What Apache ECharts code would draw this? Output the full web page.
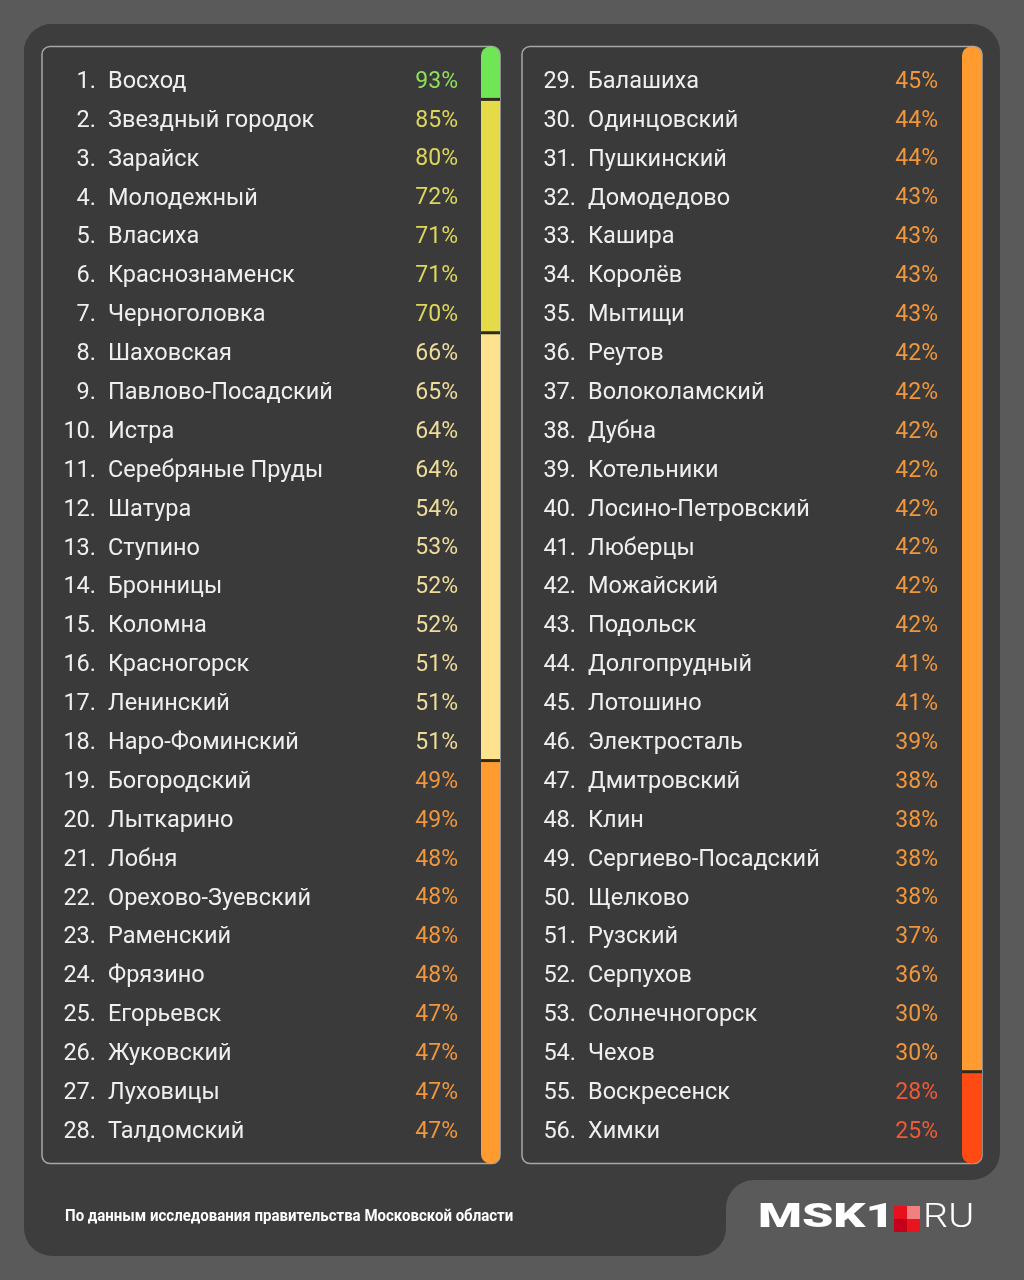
<!DOCTYPE html>
<html>
<head>
<meta charset="utf-8">
<title>Рейтинг округов Подмосковья</title>
<script src="https://cdn.jsdelivr.net/npm/echarts@6/dist/echarts.min.js"></script>
<style>
    html, body { margin: 0; padding: 0; background: #5a5a5a; }
    #box { width: 1024px; height: 1280px; }
</style>
</head>
<body>
<div id="box"></div>
<script>
// данные: левая колонка (1-28)
var leftNames = ['Восход', 'Звездный городок', 'Зарайск', 'Молодежный', 'Власиха', 'Краснознаменск',
    'Черноголовка', 'Шаховская', 'Павлово-Посадский', 'Истра', 'Серебряные Пруды', 'Шатура',
    'Ступино', 'Бронницы', 'Коломна', 'Красногорск', 'Ленинский', 'Наро-Фоминский', 'Богородский',
    'Лыткарино', 'Лобня', 'Орехово-Зуевский', 'Раменский', 'Фрязино', 'Егорьевск', 'Жуковский',
    'Луховицы', 'Талдомский'];
var leftValues = [93, 85, 80, 72, 71, 71, 70, 66, 65, 64, 64, 54, 53, 52, 52, 51, 51, 51,
    49, 49, 48, 48, 48, 48, 47, 47, 47, 47];

// правая колонка (29-56)
var rightNames = ['Балашиха', 'Одинцовский', 'Пушкинский', 'Домодедово', 'Кашира', 'Королёв',
    'Мытищи', 'Реутов', 'Волоколамский', 'Дубна', 'Котельники', 'Лосино-Петровский', 'Люберцы',
    'Можайский', 'Подольск', 'Долгопрудный', 'Лотошино', 'Электросталь', 'Дмитровский', 'Клин',
    'Сергиево-Посадский', 'Щелково', 'Рузский', 'Серпухов', 'Солнечногорск', 'Чехов',
    'Воскресенск', 'Химки'];
var rightValues = [45, 44, 44, 43, 43, 43, 43, 42, 42, 42, 42, 42, 42, 42, 42, 41, 41,
    39, 38, 38, 38, 38, 37, 36, 30, 30, 28, 25];

// границы групп: >=90 зелёный, >=70 жёлтый, >=50 светлый, >=30 оранжевый, иначе красный
var tierLimits = [90, 70, 50, 30];
var stripColors = ['#6fe655', '#e5db48', '#fde38e', '#ff9b2f', '#ff4a14'];
var textColors = ['#8ee05c', '#dcd65c', '#efdc9a', '#f0963c', '#f05a38'];

var ROWS = 28;
var rowTop = 60.5, rowHeight = 1089;
var textTop = 62.5; // текст чуть ниже центра строки
var EXT = 14; // полоса выходит за строки до краёв рамки
var FONT = 23.5;

function tierOf(v) {
    for (var i = 0; i < tierLimits.length; i++) {
        if (v >= tierLimits[i]) return i;
    }
    return tierLimits.length;
}

// подряд идущие строки одной группы -> [0, начало, конец, группа]
function runs(values) {
    var out = [];
    values.forEach(function (v, i) {
        var t = tierOf(v);
        var last = out[out.length - 1];
        if (last && last[3] === t) last[2] = i;
        else out.push([0, i, i, t]);
    });
    return out;
}

function stripRender(count) {
    return function (params, api) {
        var cs = params.coordSys;
        var band = cs.height / ROWS;
        var s = api.value(1), e = api.value(2), t = api.value(3);
        var y0 = api.coord([0, s])[1] - band / 2;
        var y1 = api.coord([0, e])[1] + band / 2;
        var first = params.dataIndex === 0;
        var last = params.dataIndex === count - 1;
        var r = [0, 0, 0, 0];
        if (first) { y0 -= EXT; r[0] = r[1] = 9; }
        if (last) { y1 += EXT; r[2] = r[3] = 9; }
        var children = [{
            type: 'rect',
            shape: { x: cs.x, y: y0, width: cs.width, height: y1 - y0, r: r },
            style: { fill: stripColors[t] }
        }];
        if (!first) {
            children.push({
                type: 'rect',
                shape: { x: cs.x, y: y0 - 1.5, width: cs.width, height: 3 },
                style: { fill: '#2e2a22' }
            });
        }
        return { type: 'group', children: children };
    };
}

// общий вид текстовой оси-колонки
function textAxis(gridIndex, position, data, label) {
    return {
        type: 'category',
        gridIndex: gridIndex,
        inverse: true,
        position: position,
        data: data,
        axisLine: { show: false },
        axisTick: { show: false },
        splitLine: { show: false },
        axisLabel: Object.assign({
            inside: true,
            interval: 0,
            fontSize: FONT,
            fontFamily: 'Roboto',
            color: '#efefef'
        }, label)
    };
}

function rankAxis(names, gridIndex, startRank) {
    var ranks = names.map(function (n, i) { return (startRank + i) + '.'; });
    return textAxis(gridIndex, 'left', ranks, { margin: 38, align: 'right' });
}

function nameAxis(names, gridIndex) {
    return textAxis(gridIndex, 'left', names, { margin: 50, align: 'left' });
}

function valueAxis(values, gridIndex) {
    var labels = values.map(function (v) { return v + '%'; });
    return textAxis(gridIndex, 'right', labels, {
        margin: 2,
        fontSize: 23,
        color: function (value, index) {
            return textColors[tierOf(values[index])];
        }
    });
}

function stripAxis(gridIndex) {
    return {
        type: 'category', gridIndex: gridIndex, inverse: true,
        data: leftNames.map(function (n, i) { return i; }),
        show: false
    };
}

function hiddenX(gridIndex) {
    return { type: 'value', gridIndex: gridIndex, min: 0, max: 1, show: false };
}

var leftRuns = runs(leftValues);
var rightRuns = runs(rightValues);

var myChart = echarts.init(document.getElementById('box'));
var option = {
    backgroundColor: '#5a5a5a',
    animation: false,
    grid: [
        { left: 58, top: textTop, width: 402, height: rowHeight },
        { left: 481, top: rowTop, width: 19, height: rowHeight },
        { left: 538, top: textTop, width: 402, height: rowHeight },
        { left: 962, top: rowTop, width: 20, height: rowHeight }
    ],
    xAxis: [hiddenX(0), hiddenX(1), hiddenX(2), hiddenX(3)],
    yAxis: [
        rankAxis(leftNames, 0, 1),
        nameAxis(leftNames, 0),
        valueAxis(leftValues, 0),
        stripAxis(1),
        rankAxis(rightNames, 2, 29),
        nameAxis(rightNames, 2),
        valueAxis(rightValues, 2),
        stripAxis(3)
    ],
    series: [
        {
            type: 'custom', xAxisIndex: 1, yAxisIndex: 3,
            renderItem: stripRender(leftRuns.length),
            encode: { x: 0, y: 1 },
            data: leftRuns, clip: false, silent: true
        },
        {
            type: 'custom', xAxisIndex: 3, yAxisIndex: 7,
            renderItem: stripRender(rightRuns.length),
            encode: { x: 0, y: 1 },
            data: rightRuns, clip: false, silent: true
        }
    ],
    graphic: [
        // тёмная подложка с вырезом под логотип
        { type: 'rect', z: -12, shape: { x: 24, y: 24, width: 976, height: 1156, r: 28 }, style: { fill: '#3d3d3d' } },
        { type: 'rect', z: -12, shape: { x: 24, y: 24, width: 702, height: 1232, r: 28 }, style: { fill: '#3d3d3d' } },
        { type: 'rect', z: -12, shape: { x: 726, y: 1150, width: 28, height: 58 }, style: { fill: '#3d3d3d' } },
        { type: 'circle', z: -11, shape: { cx: 754, cy: 1208, r: 28 }, style: { fill: '#5a5a5a' } },
        // рамки колонок
        {
            type: 'rect', z: -5,
            shape: { x: 42, y: 46.5, width: 458, height: 1117, r: 8 },
            style: { fill: '#3a3a3a', stroke: '#a8a8a8', lineWidth: 1.5 }
        },
        {
            type: 'rect', z: -5,
            shape: { x: 522, y: 46.5, width: 460, height: 1117, r: 8 },
            style: { fill: '#3a3a3a', stroke: '#a8a8a8', lineWidth: 1.5 }
        },
        // подпись
        {
            type: 'text', x: 65, y: 1217, scaleX: 0.884,
            style: {
                text: 'По данным исследования правительства Московской области',
                fill: '#ffffff', font: 'bold 17px Roboto', textVerticalAlign: 'middle'
            }
        },
        // логотип
        {
            type: 'text', x: 758, y: 1219, scaleX: 1.52,
            style: { text: 'MSK1', fill: '#ffffff', font: '900 33px Roboto', textVerticalAlign: 'middle' }
        },
        { type: 'rect', shape: { x: 894, y: 1206, width: 13, height: 13 }, style: { fill: '#e8101c' } },
        { type: 'rect', shape: { x: 907, y: 1206, width: 13, height: 13 }, style: { fill: '#f28080' } },
        { type: 'rect', shape: { x: 894, y: 1219, width: 13, height: 13 }, style: { fill: '#c4001a' } },
        { type: 'rect', shape: { x: 907, y: 1219, width: 13, height: 13 }, style: { fill: '#e8141e' } },
        {
            type: 'text', x: 923, y: 1219, scaleX: 1.2,
            style: { text: 'RU', fill: '#ffffff', font: '300 33px Roboto', textVerticalAlign: 'middle' }
        }
    ]
};

myChart.setOption(option);
</script>
</body>
</html>
